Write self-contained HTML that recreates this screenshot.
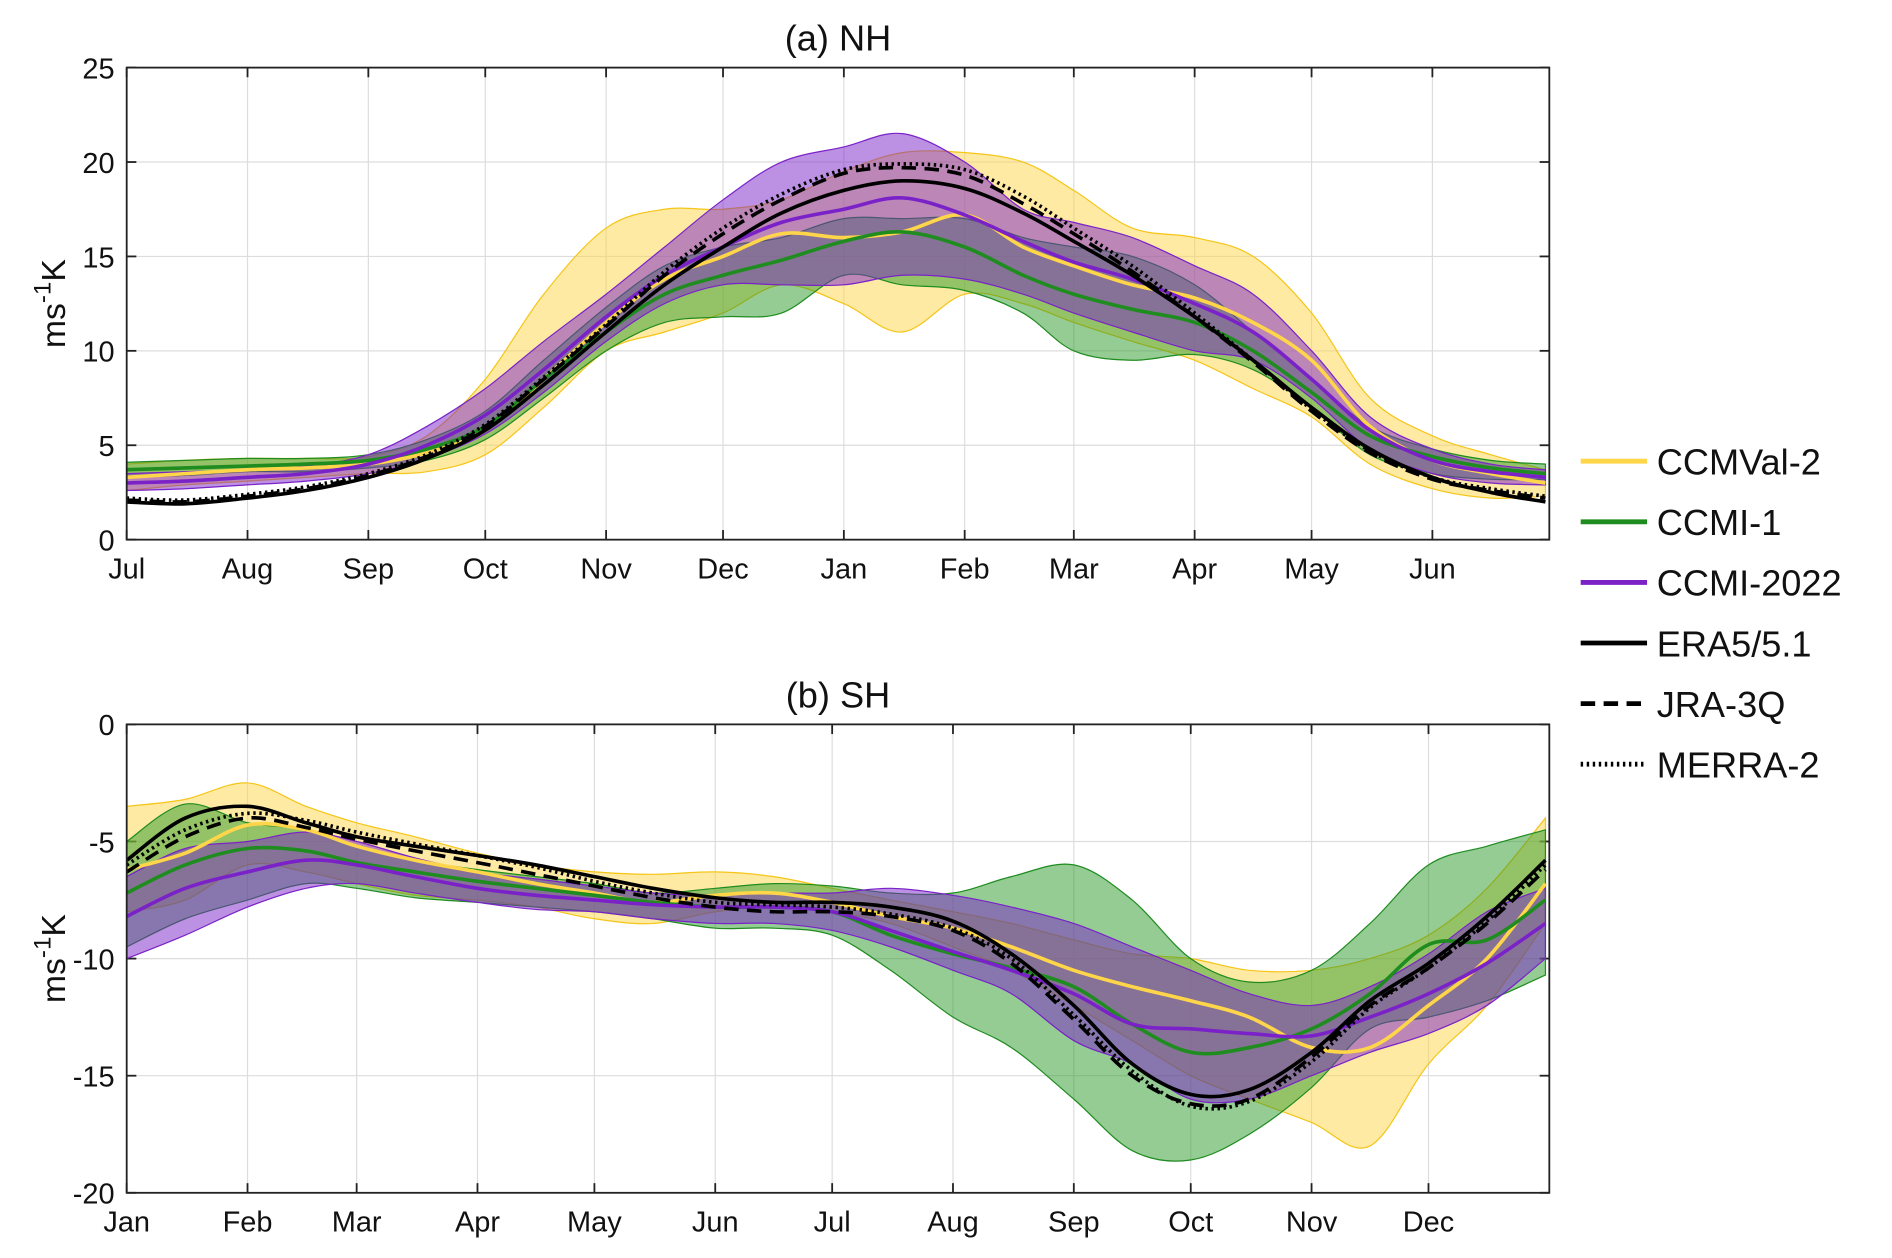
<!DOCTYPE html>
<html><head><meta charset="utf-8"><style>
body{margin:0;background:#fff}
svg{display:block}
text{font-family:"Liberation Sans","DejaVu Sans",sans-serif;fill:#111}
</style></head><body>
<svg id="s" width="1892" height="1258" viewBox="0 0 1568 1042" preserveAspectRatio="none">
</svg>
<script>
const nhDays=[0,15,31,46,62,77,92,107,123,138,153,168,184,199,215,230,243,258,274,289,304,319,335,350,364];
const nhMonths=["Jul","Aug","Sep","Oct","Nov","Dec","Jan","Feb","Mar","Apr","May","Jun"];
const nhMonthDays=[0,31,62,92,123,153,184,215,243,274,304,335];
const nhEra=[2.0,1.9,2.2,2.6,3.3,4.3,5.8,8.2,11.0,13.5,15.5,17.3,18.5,19.0,18.6,17.3,15.8,14.0,11.8,9.5,7.0,4.8,3.3,2.5,2.0];
const nhJra=[2.1,2.0,2.3,2.7,3.4,4.4,6.0,8.5,11.3,14.0,16.2,18.0,19.4,19.7,19.3,17.8,16.2,14.2,11.8,9.4,6.8,4.6,3.2,2.6,2.2];
const nhMerra=[2.2,2.1,2.4,2.8,3.5,4.5,6.1,8.6,11.4,14.2,16.5,18.3,19.6,19.9,19.6,18.2,16.5,14.5,12.0,9.5,6.9,4.7,3.3,2.7,2.3];
const nhValMean=[3.3,3.5,3.7,3.8,4.0,4.6,5.8,8.5,11.5,13.8,15.0,16.2,16.0,16.3,17.2,15.5,14.5,13.5,12.8,11.5,9.5,6.0,4.2,3.5,3.0];
const nhValLow=[2.6,2.9,3.1,3.3,3.5,3.6,4.5,7.0,10.0,11.0,12.0,13.5,12.5,11.0,13.0,12.5,11.5,10.5,9.5,8.0,6.5,4.0,2.7,2.2,2.3];
const nhValHigh=[4.0,4.2,4.3,4.3,4.4,5.5,8.5,13.0,16.5,17.5,17.5,18.0,19.5,20.5,20.5,20.0,18.5,16.5,16.0,15.0,12.0,7.5,5.5,4.5,3.7];
const nhC1Mean=[3.7,3.8,3.9,4.0,4.2,4.8,6.0,8.5,11.0,13.0,14.0,14.8,15.8,16.3,15.5,14.0,13.0,12.2,11.5,10.0,7.8,5.5,4.4,3.8,3.5];
const nhC1Low=[3.3,3.4,3.6,3.6,3.8,4.2,5.3,7.5,10.0,11.5,11.8,12.0,14.0,13.5,13.2,12.0,10.0,9.5,9.8,9.0,7.0,4.5,3.5,3.2,3.2];
const nhC1High=[4.1,4.2,4.3,4.3,4.5,5.3,6.8,9.5,12.3,14.5,15.5,16.0,17.0,17.0,17.0,16.0,15.5,15.0,13.5,11.0,8.5,6.0,4.8,4.2,4.0];
const nhC2Mean=[3.0,3.1,3.3,3.5,4.0,5.0,6.6,9.0,11.8,14.0,15.5,16.8,17.5,18.1,17.2,15.8,14.7,13.8,12.5,11.0,8.5,5.8,4.2,3.6,3.3];
const nhC2Low=[2.6,2.7,2.9,3.1,3.5,4.3,5.6,7.8,10.5,12.5,13.5,13.5,13.5,14.0,13.8,13.0,12.0,11.0,10.0,9.5,7.5,4.8,3.5,3.0,2.9];
const nhC2High=[3.5,3.6,3.7,3.9,4.5,6.0,8.0,10.5,13.0,15.5,18.0,20.0,20.8,21.5,20.0,17.5,16.8,16.0,14.5,13.0,10.0,6.5,4.8,4.0,3.7];
const nhTicks=[0,5,10,15,20,25];

const shDays=[0,15,31,46,59,74,90,105,120,135,151,166,181,196,212,227,243,258,273,288,304,319,334,349,364];
const shMonths=["Jan","Feb","Mar","Apr","May","Jun","Jul","Aug","Sep","Oct","Nov","Dec"];
const shMonthDays=[0,31,59,90,120,151,181,212,243,273,304,334];
const shEra=[-5.8,-4.0,-3.5,-4.2,-4.8,-5.2,-5.6,-6.0,-6.5,-7.0,-7.4,-7.6,-7.6,-7.8,-8.4,-9.8,-12.0,-14.5,-15.8,-15.6,-14.0,-11.8,-10.2,-8.2,-5.8];
const shJra=[-6.3,-4.8,-4.0,-4.4,-4.9,-5.4,-5.9,-6.4,-6.9,-7.4,-7.8,-8.0,-8.0,-8.2,-8.8,-10.2,-12.6,-15.0,-16.2,-16.0,-14.2,-12.0,-10.4,-8.5,-6.2];
const shMerra=[-6.0,-4.5,-3.8,-4.1,-4.6,-5.1,-5.6,-6.1,-6.7,-7.2,-7.6,-7.7,-7.8,-8.1,-8.7,-10.0,-12.4,-14.8,-16.3,-16.1,-14.4,-12.1,-10.4,-8.4,-6.0];
const shValMean=[-6.2,-5.5,-4.3,-4.5,-5.2,-5.8,-6.3,-6.8,-7.2,-7.6,-7.3,-7.2,-7.6,-8.2,-8.7,-9.5,-10.5,-11.2,-11.8,-12.5,-13.8,-13.8,-12.0,-10.0,-6.8];
const shValLow=[-8.0,-7.5,-6.0,-6.3,-6.8,-7.3,-7.5,-7.8,-8.3,-8.5,-8.0,-7.8,-8.0,-8.5,-9.5,-10.5,-12.0,-13.5,-15.0,-16.0,-17.0,-18.0,-14.5,-12.0,-8.5];
const shValHigh=[-3.5,-3.2,-2.5,-3.5,-4.2,-4.8,-5.5,-6.0,-6.3,-6.4,-6.3,-6.5,-7.0,-7.5,-8.0,-8.5,-9.2,-9.8,-10.0,-10.5,-10.5,-10.0,-9.0,-7.0,-4.0];
const shC1Mean=[-7.2,-6.0,-5.3,-5.4,-5.9,-6.3,-6.7,-7.0,-7.3,-7.6,-7.8,-7.8,-8.0,-9.0,-9.8,-10.4,-11.2,-12.8,-14.0,-13.8,-13.0,-11.5,-9.4,-9.2,-7.5];
const shC1Low=[-9.5,-8.3,-7.5,-6.8,-7.0,-7.4,-7.6,-7.8,-8.0,-8.3,-8.7,-8.7,-9.0,-10.5,-12.5,-13.8,-16.0,-18.2,-18.6,-17.5,-15.5,-13.0,-12.5,-11.8,-10.7];
const shC1High=[-5.0,-3.4,-4.2,-4.5,-5.2,-5.8,-6.2,-6.5,-6.8,-7.2,-7.0,-6.8,-6.9,-7.2,-7.2,-6.5,-6.0,-7.5,-10.0,-11.0,-10.5,-8.5,-6.0,-5.2,-4.5];
const shC2Mean=[-8.2,-7.0,-6.3,-5.8,-6.0,-6.5,-7.0,-7.3,-7.5,-7.7,-7.8,-7.8,-8.0,-8.8,-9.7,-10.5,-11.5,-12.8,-13.0,-13.2,-13.3,-12.5,-11.5,-10.2,-8.5];
const shC2Low=[-10.0,-9.0,-7.8,-7.0,-6.8,-7.2,-7.6,-7.9,-8.0,-8.3,-8.5,-8.5,-8.8,-9.5,-10.5,-11.5,-13.5,-14.5,-16.0,-16.0,-15.0,-14.0,-13.2,-12.0,-10.0];
const shC2High=[-6.5,-5.3,-5.0,-4.6,-5.0,-5.7,-6.3,-6.6,-6.9,-7.2,-7.3,-7.2,-7.2,-7.0,-7.3,-7.8,-8.5,-9.5,-10.5,-11.5,-12.0,-11.2,-9.8,-8.0,-7.0];
const shTicks=[-20,-15,-10,-5,0];

const NS="http://www.w3.org/2000/svg";
const svg=document.getElementById('s');
function mk(tag,attrs,parent){const e=document.createElementNS(NS,tag);for(const k in attrs)e.setAttribute(k,attrs[k]);(parent||svg).appendChild(e);return e;}
function smooth(pts){let d="M"+pts[0][0].toFixed(1)+","+pts[0][1].toFixed(1);for(let i=0;i<pts.length-1;i++){const p0=pts[Math.max(0,i-1)],p1=pts[i],p2=pts[i+1],p3=pts[Math.min(pts.length-1,i+2)];const c1=[p1[0]+(p2[0]-p0[0])/6,p1[1]+(p2[1]-p0[1])/6],c2=[p2[0]-(p3[0]-p1[0])/6,p2[1]-(p3[1]-p1[1])/6];d+="C"+c1.map(v=>v.toFixed(1))+" "+c2.map(v=>v.toFixed(1))+" "+p2[0].toFixed(1)+","+p2[1].toFixed(1);}return d;}

function panel(o){
  const L=105,R=1284,T=o.top,B=o.bottom;
  const xs=d=>L+(R-L)*d/365;
  const ys=v=>B-(B-T)*(v-o.ymin)/(o.ymax-o.ymin);
  const g=mk('g',{});
  
  
  mk('rect',{x:L,y:T,width:R-L,height:B-T,fill:'#fff'},g);
  o.monthDays.forEach((d,i)=>{const x=xs(d);
    if(i>0){const gl=mk('line',{x1:x,x2:x,y1:T,y2:B,stroke:'#ddd','stroke-width':1},g);}
    mk('line',{x1:x,x2:x,y1:B,y2:B-8,stroke:'#222','stroke-width':1.5},g);
    mk('line',{x1:x,x2:x,y1:T,y2:T+8,stroke:'#222','stroke-width':1.5},g);
    const t=mk('text',{x:x,y:B+32,'text-anchor':'middle','font-size':24},g);t.textContent=o.months[i];
    });
  o.ticks.forEach(v=>{const y=ys(v);
    if(v!==o.ymin&&v!==o.ymax){const gl=mk('line',{x1:L,x2:R,y1:y,y2:y,stroke:'#ddd','stroke-width':1},g);}
    mk('line',{x1:L,x2:L+8,y1:y,y2:y,stroke:'#222','stroke-width':1.5},g);
    mk('line',{x1:R,x2:R-8,y1:y,y2:y,stroke:'#222','stroke-width':1.5},g);
    const t=mk('text',{x:L-10,y:y+9,'text-anchor':'end','font-size':24},g);t.textContent=v;
    });
  const clip='c'+o.name;const cp=mk('clipPath',{id:clip},g);mk('rect',{x:L,y:T,width:R-L,height:B-T},cp);
  const plot=mk('g',{'clip-path':'url(#'+clip+')'},g);
  o.bands.forEach(b=>{
    const up=o.days.map((d,i)=>[xs(d),ys(b.high[i])]);
    const lo=o.days.map((d,i)=>[xs(d),ys(b.low[i])]).reverse();
    const d=smooth(up)+" L"+smooth(lo).slice(1)+"Z";
    const p=mk('path',{d:d,fill:b.fill,'fill-opacity':b.op,stroke:b.stroke,'stroke-width':1},plot);
    
    
  });
  o.lines.forEach(l=>{
    const pts=o.days.map((d,i)=>[xs(d),ys(l.vals[i])]);
    const p=mk('path',{d:smooth(pts),fill:'none',stroke:l.color,'stroke-width':l.w,'stroke-dasharray':l.dash||'none'},plot);
    
    
  });
  mk('rect',{x:L,y:T,width:R-L,height:B-T,fill:'none',stroke:'#222','stroke-width':1.5},g);
  const tt=mk('text',{x:(L+R)/2,y:T-14,'text-anchor':'middle','font-size':30},g);tt.textContent=o.title;
  
  const yl=mk('text',{x:0,y:0,'text-anchor':'middle','font-size':28,transform:`translate(54,${(T+B)/2}) rotate(-90)`},g);
  yl.innerHTML='ms<tspan dy="-12" font-size="20">-1</tspan><tspan dy="12">K</tspan>';
  
}
const Y='#ffd54a',G='#1f8c1f',P='#7a22c8';
function mkBands(vl,vh,c1l,c1h,c2l,c2h){return [
 {name:'ccmval2-range',low:vl,high:vh,fill:'#ffd54a',op:0.5,stroke:'#f5c518'},
 {name:'ccmi1-range',low:c1l,high:c1h,fill:'#2a9a2a',op:0.5,stroke:'#1f8c1f'},
 {name:'ccmi2022-range',low:c2l,high:c2h,fill:'#7a22c8',op:0.5,stroke:'#7a22c8'}];}
function mkLines(v,c1,c2,e,j,m){return [
 {name:'ccmval2-mean',vals:v,color:Y,w:3},
 {name:'ccmi1-mean',vals:c1,color:G,w:3},
 {name:'ccmi2022-mean',vals:c2,color:P,w:3},
 {name:'era5-line',vals:e,color:'#000',w:3},
 {name:'jra3q-line',vals:j,color:'#000',w:3,dash:'12 7'},
 {name:'merra2-line',vals:m,color:'#000',w:3,dash:'2 3'}];}
panel({name:'nh-panel',title:'(a) NH',top:56,bottom:447,ymin:0,ymax:25,ticks:nhTicks,months:nhMonths,monthDays:nhMonthDays,days:nhDays,
 bands:mkBands(nhValLow,nhValHigh,nhC1Low,nhC1High,nhC2Low,nhC2High),
 lines:mkLines(nhValMean,nhC1Mean,nhC2Mean,nhEra,nhJra,nhMerra)});
panel({name:'sh-panel',title:'(b) SH',top:600,bottom:988,ymin:-20,ymax:0,ticks:shTicks,months:shMonths,monthDays:shMonthDays,days:shDays,
 bands:mkBands(shValLow,shValHigh,shC1Low,shC1High,shC2Low,shC2High),
 lines:mkLines(shValMean,shC1Mean,shC2Mean,shEra,shJra,shMerra)});
const legItems=[["CCMVal-2",Y,'none'],["CCMI-1",G,'none'],["CCMI-2022",P,'none'],["ERA5/5.1",'#000','none'],["JRA-3Q",'#000','12 7'],["MERRA-2",'#000','2 3']];
const lg=mk('g',{});


legItems.forEach((it,i)=>{const y=382+i*50.2;
  const e=mk('g',{},lg);
  
  
  mk('line',{x1:1310,x2:1365,y1:y,y2:y,stroke:it[1],'stroke-width':4,'stroke-dasharray':it[2]},e);
  const t=mk('text',{x:1373,y:y+11,'font-size':30},e);t.textContent=it[0];});
</script>
</body></html>
